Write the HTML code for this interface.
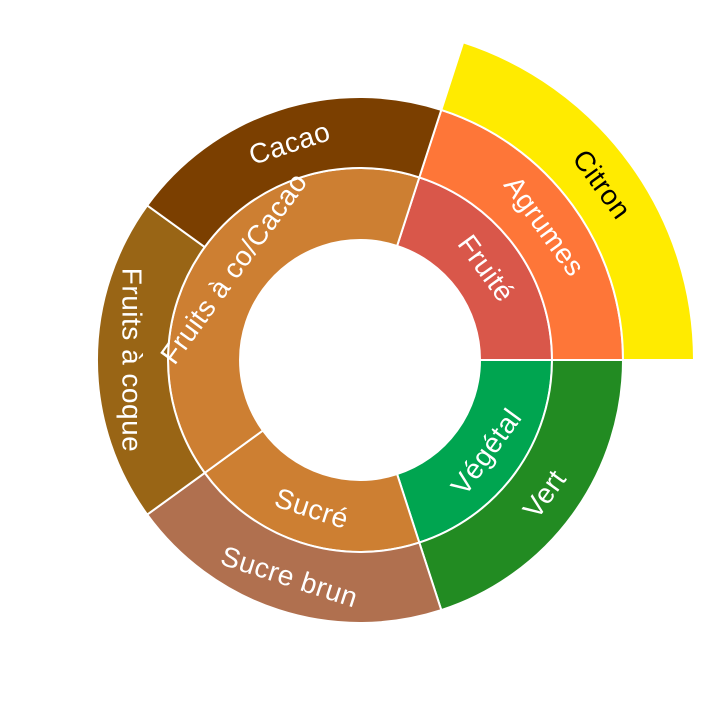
<!DOCTYPE html>
<html><head><meta charset="utf-8"><style>
html,body{margin:0;padding:0;background:#fff;width:720px;height:720px;overflow:hidden}
svg{display:block}
text{font-family:"Liberation Sans",sans-serif;font-size:28px;letter-spacing:0.5px;fill:#fff;text-anchor:middle;dominant-baseline:central}
path{stroke:#fff;stroke-width:2}
</style></head><body>
<svg width="720" height="720" viewBox="0 0 720 720">
<path fill="#d9574a" d="M480,360 L552,360 A192,192 0 0 0 419.3,177.4 L397.1,245.9 A120,120 0 0 1 480,360 Z"/>
<path fill="#00a550" d="M480,360 L552,360 A192,192 0 0 1 419.3,542.6 L397.1,474.1 A120,120 0 0 0 480,360 Z"/>
<path fill="#cd7f32" d="M397.1,474.1 L419.3,542.6 A192,192 0 0 1 204.7,472.9 L262.9,430.5 A120,120 0 0 0 397.1,474.1 Z"/>
<path fill="#cd7f32" d="M397.1,245.9 L419.3,177.4 A192,192 0 0 0 204.7,472.9 L262.9,430.5 A120,120 0 0 1 397.1,245.9 Z"/>
<path fill="#fe7638" d="M552,360 L623,360 A263,263 0 0 0 441.3,109.9 L419.3,177.4 A192,192 0 0 1 552,360 Z"/>
<path fill="#228b22" d="M552,360 L623,360 A263,263 0 0 1 441.3,610.1 L419.3,542.6 A192,192 0 0 0 552,360 Z"/>
<path fill="#b0704f" d="M419.3,542.6 L441.3,610.1 A263,263 0 0 1 147.2,514.6 L204.7,472.9 A192,192 0 0 0 419.3,542.6 Z"/>
<path fill="#996515" d="M204.7,472.9 L147.2,514.6 A263,263 0 0 1 147.2,205.4 L204.7,247.1 A192,192 0 0 0 204.7,472.9 Z"/>
<path fill="#7b3f00" d="M204.7,247.1 L147.2,205.4 A263,263 0 0 1 441.3,109.9 L419.3,177.4 A192,192 0 0 0 204.7,247.1 Z"/>
<path fill="#ffeb00" d="M623,360 L694,360 A334,334 0 0 0 463.2,42.3 L441.3,109.9 A263,263 0 0 1 623,360 Z"/>
<text transform="translate(486.2,268.3) rotate(54)">Fruité</text>
<text transform="translate(544.5,226) rotate(54)">Agrumes</text>
<text transform="translate(601.9,184.3) rotate(54)" style="fill:#000">Citron</text>
<text transform="translate(486.2,451.7) rotate(-54)">Végétal</text>
<text transform="translate(544.5,494) rotate(-54)">Vert</text>
<text transform="translate(311.8,508.4) rotate(18)">Sucré</text>
<text transform="translate(289.5,576.8) rotate(18)">Sucre brun</text>
<text transform="translate(233.8,268.3) rotate(-54)">Fruits à co/Cacao</text>
<text transform="translate(289.5,143.2) rotate(-18)">Cacao</text>
<text transform="translate(132,360) rotate(90)">Fruits à coque</text>
</svg>
</body></html>
